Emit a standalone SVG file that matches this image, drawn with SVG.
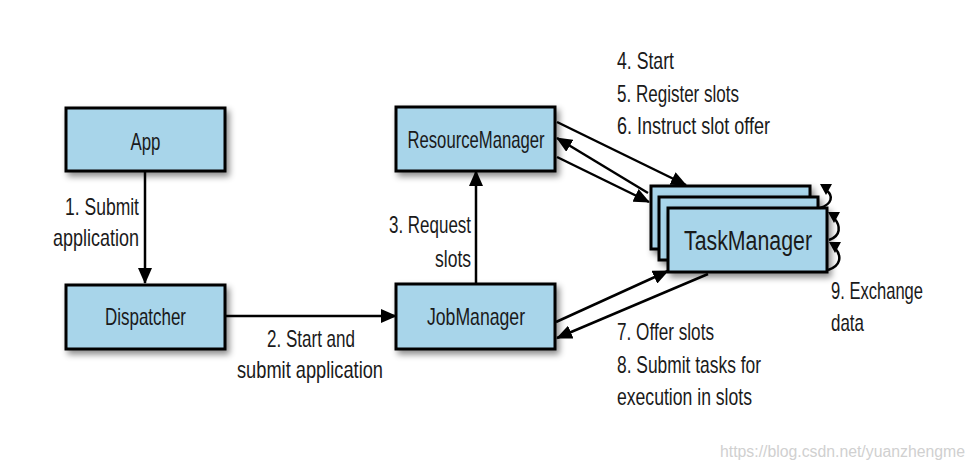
<svg xmlns="http://www.w3.org/2000/svg" width="974" height="471" viewBox="0 0 974 471">
<defs>
<filter id="sh" x="-20%" y="-30%" width="150%" height="170%">
<feDropShadow dx="3" dy="4" stdDeviation="3" flood-color="#000" flood-opacity="0.45"/>
</filter>
<marker id="ah" markerUnits="userSpaceOnUse" markerWidth="16" markerHeight="14" refX="15" refY="7" orient="auto">
<path d="M0,0 L16,7 L0,14 z" fill="#000"/>
</marker>
</defs>
<style>
.box{fill:#a8d5ea;stroke:#000;stroke-width:3;filter:url(#sh)}
.t{font-family:"Liberation Sans",Arial,sans-serif;font-size:24px;fill:#1a1a1a}
.c{text-anchor:middle}
.r{text-anchor:end}
.ln{stroke:#000;stroke-width:2.5;fill:none}
.lk{stroke:#000;stroke-width:2.5;fill:none;marker-end:url(#ah)}
</style>
<rect width="974" height="471" fill="#fff"/>
<g id="app">
<rect class="box" x="66" y="108" width="159" height="63"/>
<text class="t c" x="145.5" y="150" textLength="30" lengthAdjust="spacingAndGlyphs">App</text>
</g>
<g id="dispatcher">
<rect class="box" x="66" y="285" width="159" height="64"/>
<text class="t c" x="145.5" y="325" textLength="81" lengthAdjust="spacingAndGlyphs">Dispatcher</text>
</g>
<g id="jobmanager">
<rect class="box" x="396" y="284" width="159" height="65"/>
<text class="t c" x="476" y="325" textLength="98" lengthAdjust="spacingAndGlyphs">JobManager</text>
</g>
<g id="resourcemanager">
<rect class="box" x="396" y="107" width="159" height="64"/>
<text class="t c" x="476" y="148" textLength="137" lengthAdjust="spacingAndGlyphs">ResourceManager</text>
</g>
<g id="taskmanager">
<rect class="box" x="651" y="186" width="159" height="63"/>
<rect class="box" x="659" y="197" width="159" height="63"/>
<rect class="box" x="668" y="208" width="159" height="64"/>
<text class="t c" x="748" y="250" font-size="27" textLength="128" lengthAdjust="spacingAndGlyphs" style="font-size:27px">TaskManager</text>
</g>
<g id="connectors">
<line class="lk" x1="145" y1="171" x2="145" y2="283"/>
<line class="lk" x1="225" y1="316" x2="396" y2="316"/>
<line class="lk" x1="476" y1="284" x2="476" y2="171"/>
<line class="lk" x1="557" y1="122" x2="686" y2="185"/>
<line class="lk" x1="648" y1="193" x2="557" y2="138"/>
<line class="lk" x1="557" y1="157" x2="649" y2="202"/>
<line class="lk" x1="556" y1="322" x2="668" y2="271"/>
<line class="lk" x1="708" y1="274" x2="557" y2="338"/>
<path class="ln" d="M826 190 C834 196,832 204,820 208"/>
<path class="ln" d="M834 218 C841 226,841 236,829 240"/>
<path class="ln" d="M835 248 C842 256,841 266,828 270"/>
<polygon points="820,184 832,184 826,195" fill="#000"/>
<polygon points="828,212 840,212 834,223" fill="#000"/>
<polygon points="829,242 841,242 835,253" fill="#000"/>
</g>
<g id="labels">
<text class="t r" x="139" y="215" textLength="74" lengthAdjust="spacingAndGlyphs">1. Submit</text>
<text class="t r" x="139" y="246" textLength="86" lengthAdjust="spacingAndGlyphs">application</text>
<text class="t c" x="311" y="347" textLength="88" lengthAdjust="spacingAndGlyphs">2. Start and</text>
<text class="t c" x="310" y="378" textLength="146" lengthAdjust="spacingAndGlyphs">submit application</text>
<text class="t r" x="471" y="233" textLength="82" lengthAdjust="spacingAndGlyphs">3. Request</text>
<text class="t r" x="471" y="267" textLength="36" lengthAdjust="spacingAndGlyphs">slots</text>
<text class="t" x="617" y="69" textLength="57" lengthAdjust="spacingAndGlyphs">4. Start</text>
<text class="t" x="617" y="102" textLength="122" lengthAdjust="spacingAndGlyphs">5. Register slots</text>
<text class="t" x="617" y="134" textLength="153" lengthAdjust="spacingAndGlyphs">6. Instruct slot offer</text>
<text class="t" x="617" y="340" textLength="97" lengthAdjust="spacingAndGlyphs">7. Offer slots</text>
<text class="t" x="617" y="373" textLength="144" lengthAdjust="spacingAndGlyphs">8. Submit tasks for</text>
<text class="t" x="617" y="405" textLength="135" lengthAdjust="spacingAndGlyphs">execution in slots</text>
<text class="t" x="831" y="299" textLength="92" lengthAdjust="spacingAndGlyphs">9. Exchange</text>
<text class="t" x="831" y="331" textLength="33" lengthAdjust="spacingAndGlyphs">data</text>
<text x="720" y="457" style="font-family:'Liberation Sans',Arial,sans-serif;font-size:16px;fill:#d0d0d0" textLength="245" lengthAdjust="spacingAndGlyphs">https://blog.csdn.net/yuanzhengme</text>
</g>
</svg>
